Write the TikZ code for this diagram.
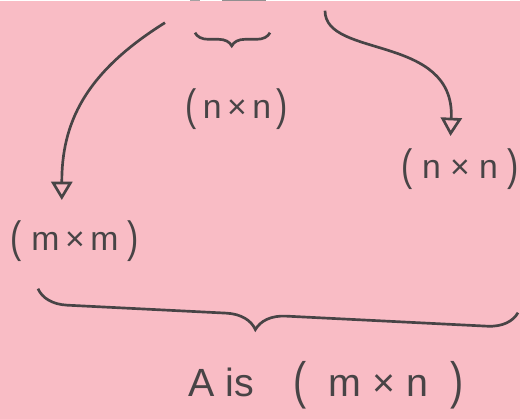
\documentclass[tikz,border=0pt]{standalone}
\usepackage{fontspec}
\setmainfont{Liberation Sans}
\usetikzlibrary{arrows.meta,decorations.pathreplacing}
\definecolor{note}{RGB}{249,188,197}
\definecolor{pencil}{RGB}{72,68,70}
\newcommand{\tp}[1]{\raisebox{-0.06em}{\scalebox{1}[1.3]{#1}}}

\begin{document}
\begin{tikzpicture}[x=0.025cm,y=0.025cm,
  lbl/.style={text=pencil,font=\fontsize{24}{28}\selectfont,inner sep=0pt},
  arr/.style={draw=pencil,line width=1.9pt,-{Triangle[open,length=13pt,width=15pt]}},
  brc/.style={draw=pencil,line width=1.9pt,decorate,decoration={brace,mirror,#1}}]
  \fill[note] (0,0) rectangle (520,418);
  % remains of the text cut off above
  \draw[pencil!60,line width=1pt] (222,418) -- (266,418);
  \draw[pencil!50,line width=0.6pt] (190,418) -- (200,418);
  \draw[brc={amplitude=0.33cm,aspect=0.49}] (195,386) -- (270,386);
  \node[lbl] (nn) at (237,310) {\tp{(}\,n\,×\,n\,\tp{)}};
  \node[lbl] (mm) at (75,178) {\tp{(}\;m\,×\,m\;\tp{)}};
  \node[lbl] (nr) at (460,250) {\tp{(}\;n\;×\;n\;\tp{)}};
  \coordinate (ltop) at (165,396);
  \coordinate (rtop) at (325,408);
  \draw[arr,shorten >=0.5cm] (ltop) to[out=212,in=90,looseness=1.1] ([xshift=-0.33cm]mm.north);
  \draw[arr,shorten >=0.3cm] (rtop) .. controls (325,360) and (455,385) .. ([xshift=-0.25cm]nr.north);
  \draw[brc={amplitude=0.75cm,aspect=0.456}] (38,130) -- (518,106);
  \node[lbl,font=\fontsize{28}{32}\selectfont] (A) at (326,33) {A is\quad\tp{(}\;\;m\;×\;n\;\;\tp{)}};
\end{tikzpicture}
\end{document}
